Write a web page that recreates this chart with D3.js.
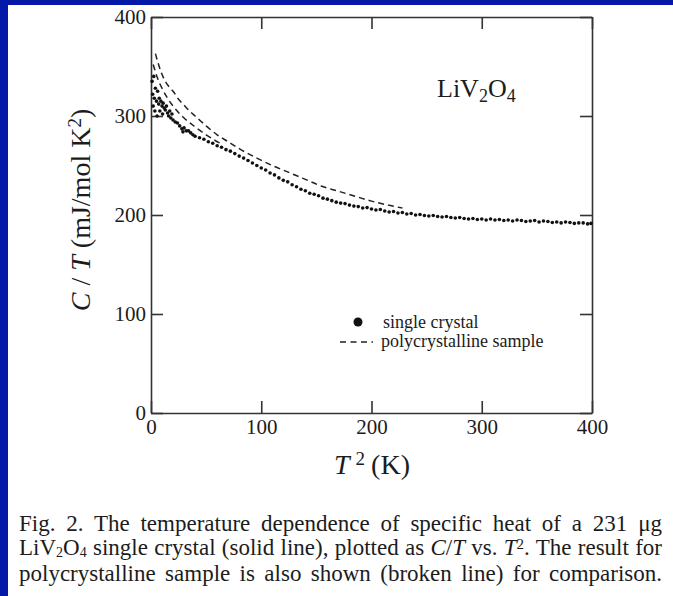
<!DOCTYPE html>
<html><head><meta charset="utf-8">
<script src="https://cdn.jsdelivr.net/npm/d3@7"></script>
<style>
body{margin:0;background:#fff}
svg{display:block}
text{font-family:"Liberation Serif","Times New Roman",serif;fill:#1c1c1c}
</style>
</head><body><svg id="c" width="673" height="596"></svg>
<script>
// ---- data ----
const xTicks = [0, 100, 200, 300, 400];
const yTicks = [0, 100, 200, 300, 400];

const crystalT2 = [1,1.5,2,2.5,3,3.5,4,5,5.5,6,7,7.5,8,9,10,10.5,11,12,13,14,15,16,17,18,19,20,22,24,26,28,29,30,32,34,36,38,
  40,44,48,52,56,60,64,68,72,76,80,84,88,92,96,100,104,108,112,116,120,124,128,132,136,140,144,148,152,156,160,164,168,172,176,180,
  184,188,192,196,200,204,208,212,216,220,224,228,232,236,240,244,248,252,256,260,264,268,272,276,280,284,288,292,296,300,304,308,
  312,316,320,324,328,332,336,340,344,348,352,356,360,364,368,372,376,380,384,388,392,396,399];
const crystalCT = [335,322,310,340,318,305,328,315,300,325,312,318,305,315,310,302,313,308,306,310,303,300,305,298,302,296,294,293,290,287,284,288,285,285,283,281,
  279.5,278,276.5,274,272.5,270,268.5,266,264.5,262,259.5,257.5,255,252.5,250,247.5,245.5,242.5,240.5,237.5,235,233.5,230.5,228.5,226,224.5,222,221,219.5,217,216,214.5,213,212,211.5,210,
  209,208.5,207,207.5,206,205,205.5,204,203,203.5,202,202.5,201,201.5,200,200.5,199.5,199,199.5,198.5,198,198.5,197.5,197,197.5,196.5,196,196.5,195.5,196,195,196,
  195,195.5,194.5,195,194,195,194.5,193.5,194,194.5,193,194,193.5,192.5,193,192,193,192.5,191.5,192,192,191,191.5];

const polyAT2 = [4,8,12,16,20,25,30,35,40,45,50,60,70,80,95,110,125,140,155,170,185,200,215,228];
const polyACT = [363,348,337,330,325,317,311,305,300,295,290,281,274,267,258,250,243,236,229,224,219,214,210,207];

const polyBT2 = [2,6,10,15,20,30,40,50,65];
const polyBCT = [352,338,328,318,310,298,289,281,271];

const captionLines = [
  "Fig. 2. The temperature dependence of specific heat of a 231 \u03bcg",
  "LiV2O4 single crystal (solid line), plotted as C/T vs. T2. The result for",
  "polycrystalline sample is also shown (broken line) for comparison."
];

// ---- layout ----
const svg = d3.select("#c");
const W = 673, H = 596;
svg.append("rect").attr("width", W).attr("height", H).attr("fill", "#fff");
svg.append("rect").attr("x", 0).attr("y", 0).attr("width", W).attr("height", 5).attr("fill", "#0419a8");
svg.append("rect").attr("x", 0).attr("y", 0).attr("width", 8).attr("height", H).attr("fill", "#0419a8");

const x = d3.scaleLinear().domain([0, 400]).range([151, 592]);
const y = d3.scaleLinear().domain([0, 400]).range([413, 17]);

const axisColor = "#333";
function styleAxis(g, fs) {
  g.selectAll("path, line").attr("stroke", axisColor).attr("stroke-width", 1.6);
  g.selectAll("text").attr("font-size", fs).attr("font-family", "'Liberation Serif', serif").attr("fill", "#222");
}

const gB = svg.append("g").attr("transform", `translate(0,${y(0)})`)
  .call(d3.axisBottom(x).tickValues(xTicks).tickSizeInner(-12).tickSizeOuter(0).tickPadding(6).tickFormat(d3.format("d")));
styleAxis(gB, 21);
const gT = svg.append("g").attr("transform", `translate(0,${y(400)})`)
  .call(d3.axisTop(x).tickValues(xTicks).tickSizeInner(-12).tickSizeOuter(0).tickFormat(""));
styleAxis(gT, 21);
const gL = svg.append("g").attr("transform", `translate(${x(0)},0)`)
  .call(d3.axisLeft(y).tickValues(yTicks).tickSizeInner(-12).tickSizeOuter(0).tickPadding(5).tickFormat(d3.format("d")));
styleAxis(gL, 21);
const gR = svg.append("g").attr("transform", `translate(${x(400)},0)`)
  .call(d3.axisRight(y).tickValues(yTicks).tickSizeInner(-12).tickSizeOuter(0).tickFormat(""));
styleAxis(gR, 21);

// ---- data marks ----
const lineGen = d3.line().x(d => x(d[0])).y(d => y(d[1])).curve(d3.curveMonotoneX);
[[polyAT2, polyACT], [polyBT2, polyBCT]].forEach(([xs, ys]) => {
  svg.append("path").datum(xs.map((v, i) => [v, ys[i]]))
    .attr("d", lineGen).attr("fill", "none").attr("stroke", "#222")
    .attr("stroke-width", 1.5).attr("stroke-dasharray", "6,4");
});

svg.append("g").selectAll("circle").data(crystalT2.map((v, i) => [v, crystalCT[i]]))
  .join("circle").attr("cx", d => x(d[0])).attr("cy", d => y(d[1])).attr("r", 1.8).attr("fill", "#111");

// ---- annotation ----
const chem = svg.append("text").attr("x", 437).attr("y", 97).attr("font-size", 26);
chem.append("tspan").text("LiV");
chem.append("tspan").attr("baseline-shift", "-25%").attr("font-size", 18).text("2");
chem.append("tspan").text("O");
chem.append("tspan").attr("baseline-shift", "-25%").attr("font-size", 18).text("4");

// legend
svg.append("circle").attr("cx", 358).attr("cy", 322).attr("r", 4.5).attr("fill", "#111");
svg.append("text").attr("x", 383).attr("y", 328).attr("font-size", 18).text("single crystal");
svg.append("line").attr("x1", 340).attr("x2", 373).attr("y1", 342).attr("y2", 342)
  .attr("stroke", "#222").attr("stroke-width", 1.5).attr("stroke-dasharray", "6,4.5");
svg.append("text").attr("x", 381).attr("y", 347).attr("font-size", 18).text("polycrystalline sample");

// axis titles
const xt = svg.append("text").attr("x", 372).attr("y", 474).attr("text-anchor", "middle").attr("font-size", 28);
xt.append("tspan").attr("font-style", "italic").text("T");
xt.append("tspan").attr("baseline-shift", "45%").attr("font-size", 19).attr("dx", 6).text("2");
xt.append("tspan").attr("dx", 6).text("(K)");

const yt = svg.append("text").attr("transform", "translate(90,210) rotate(-90)").attr("text-anchor", "middle").attr("font-size", 28);
yt.append("tspan").attr("font-style", "italic").text("C");
yt.append("tspan").text(" / ");
yt.append("tspan").attr("font-style", "italic").text("T");
yt.append("tspan").text(" (mJ/mol K");
yt.append("tspan").attr("baseline-shift", "45%").attr("font-size", 19).text("2");
yt.append("tspan").text(")");

// caption (justified via word-spacing)
const capX = 19, capW = 643, capFs = 23;
function capLine(yy, parts) {
  const t = svg.append("text").attr("x", capX).attr("y", yy).attr("font-size", capFs).attr("xml:space", "preserve");
  parts.forEach(p => {
    const s = t.append("tspan").text(p.t);
    if (p.i) s.attr("font-style", "italic");
    if (p.sub) s.attr("baseline-shift", "-12%").attr("font-size", 14);
    if (p.sup) s.attr("baseline-shift", "38%").attr("font-size", 15);
  });
  const natural = t.node().getComputedTextLength();
  const spaces = parts.map(p => p.t).join("").split(" ").length - 1;
  const ws = (capW - natural) / spaces;
  t.attr("word-spacing", ws);
  return t;
}
capLine(531, [{t: captionLines[0]}]);
capLine(555, [{t: "LiV"}, {t: "2", sub: 1}, {t: "O"}, {t: "4", sub: 1},
  {t: " single crystal (solid line), plotted as "}, {t: "C", i: 1}, {t: "/"}, {t: "T", i: 1},
  {t: " vs. "}, {t: "T", i: 1}, {t: "2", sup: 1}, {t: ". The result for"}]);
capLine(581, [{t: captionLines[2]}]);
</script></body></html>
